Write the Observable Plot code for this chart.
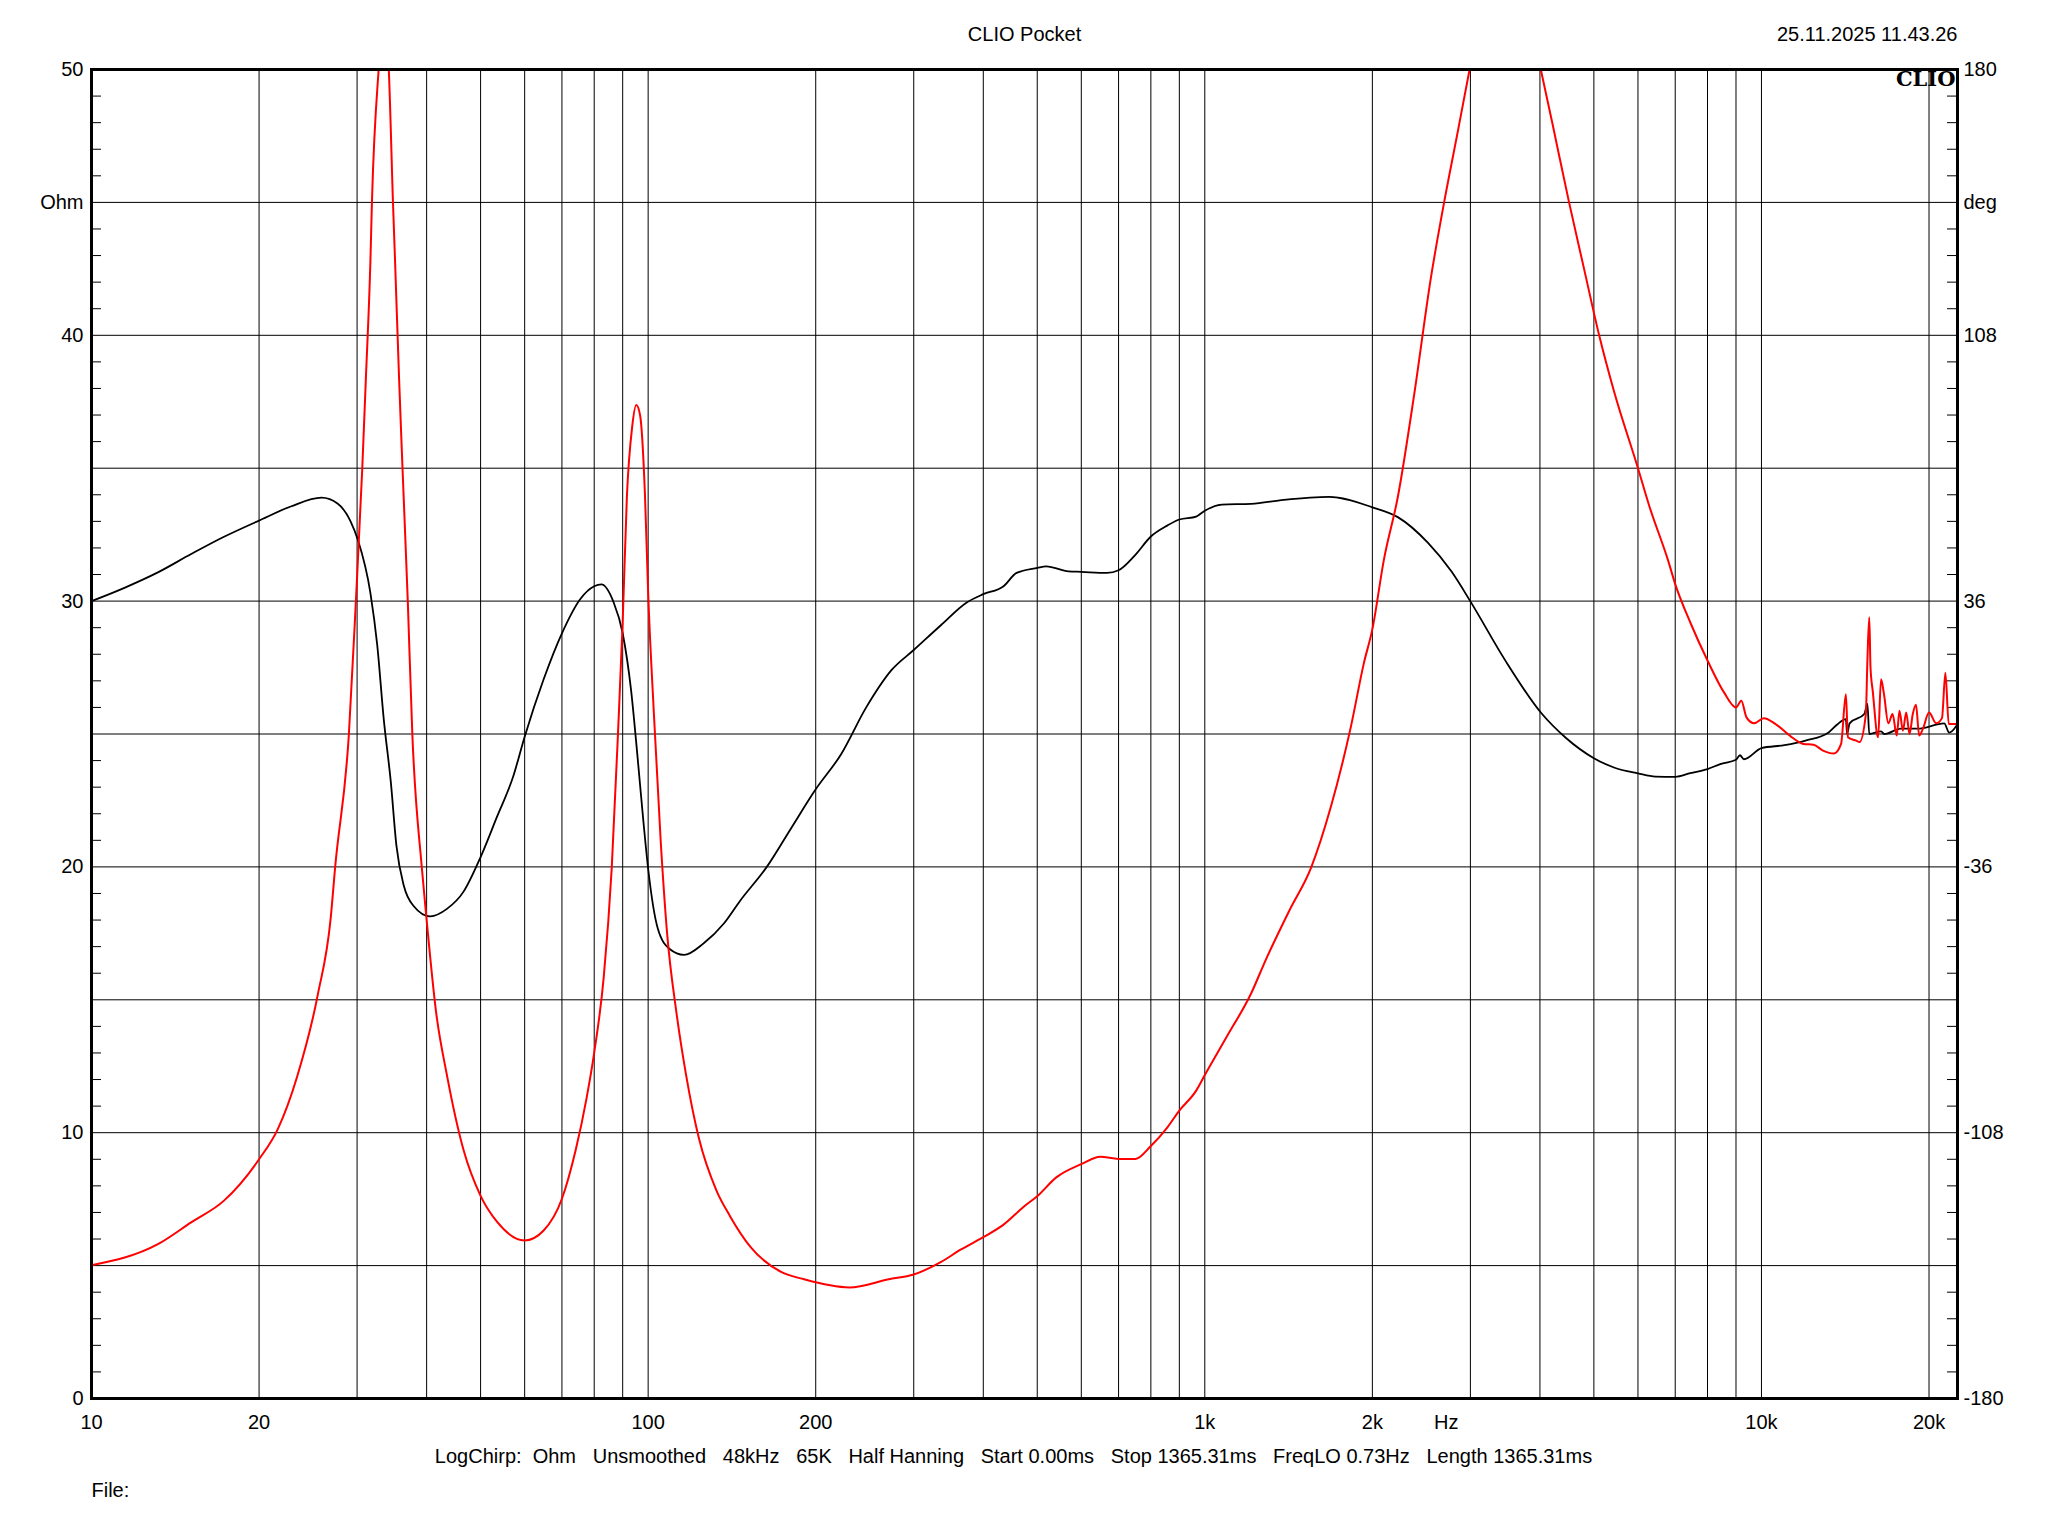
<!DOCTYPE html>
<html>
<head>
<meta charset="utf-8">
<script src="https://cdn.jsdelivr.net/npm/d3@7"></script>
<script src="https://cdn.jsdelivr.net/npm/@observablehq/plot@0.6"></script>
<style>
  html, body { margin: 0; padding: 0; background: #fff; }
  #chart svg { display: block; }
</style>
</head>
<body>
<div id="chart"></div>
<script>
// ---- Impedance (black, left axis, Ohm) ----
const impFreq = [10, 11.46, 13.16, 15.1, 17.3, 20, 22.8, 25.9, 27.7, 29.2, 30.1, 31.7, 32.6, 33.5, 34.5, 35.3, 36.4, 37.9, 40.6, 43.5, 46.6, 50, 53.5, 57.2, 60, 64.9, 70, 75.6, 80, 82.4, 86.6, 90, 93.2, 95.6, 98.1, 100, 104.1, 109.3, 116, 125.7, 136.9, 146.1, 163.6, 180.2, 200, 222, 246.6, 273.8, 300, 336, 373, 400, 435, 459, 500, 519, 569, 600, 667, 700, 749, 800, 856, 900, 965, 1000, 1073, 1211, 1387, 1672, 2000, 2222, 2518, 2775, 3000, 3465, 4025, 4455, 5000, 5432, 6000, 6450, 7000, 7453, 8000, 8434, 9000, 9150, 9300, 10000, 11000, 12000, 13200, 13700, 14180, 14250, 14400, 15300, 15500, 15620, 16400, 16620, 17800, 19080, 21300, 21740, 22500];
const impOhm = [30.0, 30.5, 31.08, 31.77, 32.42, 33.03, 33.56, 33.89, 33.66, 33.0, 32.3, 30.3, 28.36, 25.55, 23.17, 20.8, 19.29, 18.53, 18.14, 18.42, 19.07, 20.37, 21.88, 23.39, 24.9, 27.06, 28.79, 30.09, 30.56, 30.63, 29.98, 28.79, 26.63, 24.25, 21.66, 19.93, 17.67, 16.91, 16.69, 17.12, 17.88, 18.71, 20.02, 21.42, 22.92, 24.23, 26.01, 27.41, 28.16, 29.1, 29.94, 30.26, 30.56, 31.06, 31.25, 31.31, 31.12, 31.1, 31.06, 31.16, 31.72, 32.43, 32.84, 33.07, 33.18, 33.4, 33.63, 33.66, 33.81, 33.92, 33.53, 33.16, 32.19, 31.11, 29.99, 27.77, 25.78, 24.85, 24.09, 23.74, 23.52, 23.4, 23.39, 23.53, 23.68, 23.87, 24.03, 24.2, 24.05, 24.47, 24.58, 24.75, 25.06, 25.37, 25.56, 25.0, 25.4, 25.75, 26.13, 25.0, 25.1, 25.0, 25.2, 25.2, 25.4, 25.05, 25.37];

// ---- Phase (red, right axis, degrees) ----
const phaseFreq = [10, 13.16, 15.1, 17.3, 20, 21.6, 23.4, 25.5, 26.9, 27.4, 29.0, 29.85, 30.65, 31.1, 31.7, 31.9, 32.8, 33.5, 34.2, 34.8, 35.1, 35.7, 36.2, 37.0, 37.7, 39.2, 40, 41.6, 43.5, 46.6, 50, 53.5, 60, 64.9, 70, 74.1, 77.5, 80, 83.2, 86, 88.4, 90, 91.6, 93.6, 95.2, 96.7, 98.7, 100, 102.4, 105.3, 108.1, 112.4, 117, 123.4, 132.6, 140.3, 152.8, 173.3, 190.6, 230, 270.6, 300, 336, 364, 400, 435, 474, 500, 541, 600, 649, 700, 751, 800, 856, 900, 965, 1000, 1098, 1211, 1284, 1420, 1553, 1684, 1830, 1931, 2000, 2097, 2222, 2379, 2546, 2688, 2852, 2990, 3460, 4014, 4213, 4512, 4801, 5110, 5432, 6000, 6283, 6800, 7000, 7470, 8000, 8570, 9000, 9200, 9400, 9700, 10100, 10600, 11300, 11900, 12400, 12900, 13500, 13900, 14180, 14300, 14800, 15000, 15400, 15500, 15620, 15700, 15850, 16200, 16400, 16600, 16900, 17200, 17500, 17700, 17950, 18200, 18450, 18700, 18950, 19200, 19500, 20000, 20600, 21100, 21400, 21700, 22500];
const phaseDeg = [-143.9, -138.2, -132.3, -126.4, -115.2, -107.1, -92.9, -70.6, -49.8, -36, 0, 36, 72, 95.8, 128.2, 144, 180, 194.4, 180, 144, 128.2, 95.8, 72, 36, 0, -36, -50.4, -75.4, -92.4, -112.7, -125.1, -132.1, -137.2, -134.5, -125.9, -112.7, -98.7, -86.3, -66.0, -36.5, 2.4, 30.4, 64.6, 83.2, 89.1, 86.4, 64.6, 38.2, 5.5, -28.7, -53.6, -75.4, -92.4, -109.6, -123.6, -130.6, -139.0, -145.7, -147.7, -149.9, -147.7, -146.4, -143.0, -139.7, -136.3, -132.9, -127.9, -125.2, -120.1, -116.5, -114.5, -115.1, -115.1, -111.6, -106.6, -102.0, -96.6, -92.4, -81.7, -70.3, -61.5, -47.7, -36.1, -19.8, 2.0, 19.2, 28.4, 47.1, 64.2, 92.2, 123.3, 143.6, 163.7, 180, 223, 180, 165.3, 144, 126, 108, 92.9, 72, 61.9, 46.9, 40.6, 29.8, 19.9, 11.2, 7.2, 9.0, 4.5, 2.9, 4.3, 2.7, -0.7, -2.7, -2.9, -4.5, -5.3, -2.7, 10.8, -0.9, -1.8, -2.2, 5.4, 19.9, 31.6, 18, 11.5, -0.9, 14.8, 10.8, 2.9, 5.4, -0.4, 6.3, 0.9, 5.8, 0, 5.4, 7.9, -0.4, 1.4, 5.8, 2.9, 4.3, 16.6, 2.7, 2.7];

// ---- Axes / grid ----
const ohmTicks = [0, 10, 20, 30, 40, 45, 50];
const ohmLabels = ["0", "10", "20", "30", "40", "Ohm", "50"];
const degLabels = ["-180", "-108", "-36", "36", "108", "deg", "180"];
const freqTicks = [10, 20, 50, 100, 200, 500, 1000, 2000, 2715, 5000, 10000, 20000];
const freqLabels = ["10", "20", "50", "100", "200", "500", "1k", "2k", "Hz", "5k", "10k", "20k"];
const gridFreqs = [10, 20, 30, 40, 50, 60, 70, 80, 90, 100, 200, 300, 400, 500, 600, 700, 800, 900, 1000, 2000, 3000, 4000, 5000, 6000, 7000, 8000, 9000, 10000, 20000];
const gridOhms = [5, 10, 15, 20, 25, 30, 35, 40, 45];
const minorOhms = [1,2,3,4,6,7,8,9,11,12,13,14,16,17,18,19,21,22,23,24,26,27,28,29,31,32,33,34,36,37,38,39,41,42,43,44,46,47,48,49];

const titleText = "CLIO Pocket";
const dateText = "25.11.2025 11.43.26";
const logoText = "CLIO";
const infoText = ["LogChirp:", "Ohm", "Unsmoothed", "48kHz", "65K", "Half Hanning", "Start 0.00ms", "Stop 1365.31ms", "FreqLO 0.73Hz", "Length 1365.31ms"];
const fileText = "File:";

// phase degrees -> shared vertical scale (0..50 Ohm  <->  -180..180 deg)
const degToOhm = d => 25 + d / 7.2;

const imp = impFreq.map((f, i) => ({f, v: impOhm[i]}));
const phase = phaseFreq.map((f, i) => ({f, v: degToOhm(phaseDeg[i])}));

const W = 2048, H = 1536;
const mL = 91, mR = 91, mT = 69, mB = 138;
const frameW = W - mL - mR;
const sp = "\u00a0\u00a0\u00a0";
const infoLine = infoText[0] + "\u00a0\u00a0" + infoText.slice(1).join(sp);

const chart = Plot.plot({
  width: W,
  height: H,
  marginLeft: mL,
  marginRight: mR,
  marginTop: mT,
  marginBottom: mB,
  style: {fontFamily: "'Liberation Sans', Arial, sans-serif", fontSize: "20px", color: "black", background: "white"},
  x: {type: "log", domain: [10, 22500]},
  y: {domain: [0, 50]},
  marks: [
    Plot.ruleX(gridFreqs, {stroke: "black", strokeWidth: 1}),
    Plot.ruleY(gridOhms, {stroke: "black", strokeWidth: 1}),
    Plot.tickY(minorOhms, {stroke: "black", strokeWidth: 1, insetRight: frameW - 10}),
    Plot.tickY(minorOhms, {stroke: "black", strokeWidth: 1, insetLeft: frameW - 10}),
    Plot.line(imp, {x: "f", y: "v", stroke: "black", strokeWidth: 1.8, curve: "monotone-x", clip: true}),
    Plot.line(phase, {x: "f", y: "v", stroke: "#ff0000", strokeWidth: 2, curve: "monotone-x", clip: true}),
    Plot.frame({stroke: "black", strokeWidth: 3}),
    Plot.axisY({anchor: "left", ticks: ohmTicks, tickFormat: (d) => ohmLabels[ohmTicks.indexOf(d)], tickSize: 0, tickPadding: 8, label: null, fontSize: 20}),
    Plot.axisY({anchor: "right", ticks: ohmTicks, tickFormat: (d) => degLabels[ohmTicks.indexOf(d)], tickSize: 0, tickPadding: 6, label: null, fontSize: 20}),
    Plot.axisX({ticks: freqTicks, tickFormat: (d) => freqLabels[freqTicks.indexOf(d)], tickSize: 0, tickPadding: 16, label: null, fontSize: 20}),
    Plot.text([titleText], {frameAnchor: "top", lineAnchor: "middle", dy: -35, fontSize: 20, fill: "black"}),
    Plot.text([dateText], {frameAnchor: "top-right", lineAnchor: "middle", textAnchor: "end", dy: -35, fontSize: 20, fill: "black"}),
    Plot.text([logoText], {frameAnchor: "top-right", lineAnchor: "middle", textAnchor: "end", dx: -2, dy: 10, fontSize: 21, fontWeight: "bold", fontFamily: "'DejaVu Serif', serif", fill: "black"}),
    Plot.text([infoLine], {frameAnchor: "bottom", lineAnchor: "middle", dx: -11, dy: 58, fontSize: 20, fill: "black"}),
    Plot.text([fileText], {frameAnchor: "bottom-left", lineAnchor: "middle", textAnchor: "start", dy: 92, fontSize: 20, fill: "black"})
  ]
});

document.getElementById("chart").appendChild(chart);
</script>
</body>
</html>
